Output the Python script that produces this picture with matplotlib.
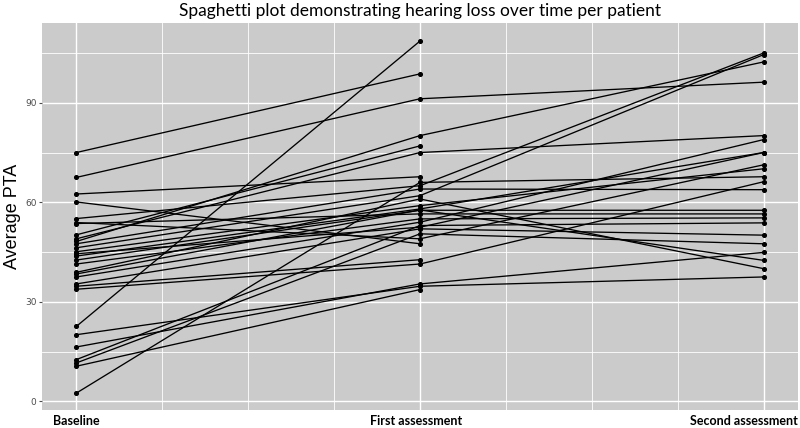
import numpy as np
import matplotlib
matplotlib.use("Agg")
import matplotlib.pyplot as plt

# time points (x positions of the assessments) and their labels
timepoints = [0, 4, 8]
tick_labels = ["Baseline", "First assessment", "Second assessment"]

# average PTA per patient at each assessment (nan = not measured)
nan = np.nan
baseline = [75.0, 67.5, 22.6, 62.5, 60.1, 55.1, 53.9, 53.6, 50.2, 49.0,
            48.2, 47.5, 46.3, 45.1, 43.8, 42.6, 41.4, 38.9, 38.4, 37.5,
            35.4, 34.7, 33.8, 20.1, 16.4, 12.6, 11.6, 10.6, 2.5, 44.5]
first = [98.7, 91.2, 108.6, 67.7, 47.5, 65.0, 49.0, 56.5, 77.0, 75.0,
         80.1, 64.0, 62.0, 59.0, 58.0, 57.6, 55.0, 61.0, 57.7, 54.0,
         52.0, 42.7, 41.4, 34.7, 35.4, 53.0, 50.5, 33.7, 66.0, 52.5]
second = [nan, 96.2, nan, nan, nan, 105.0, 71.3, 56.5, nan, 80.1,
          102.3, 63.8, 104.5, 70.1, 75.0, 57.6, 55.3, 40.0, 42.5, 78.9,
          50.1, nan, 66.2, 37.5, 44.9, 53.8, 47.5, nan, 67.7, 75.0]

fig = plt.figure(figsize=(8, 4.28), dpi=100)
ax = fig.add_axes([0.0525, 0.042, 0.945, 0.904])
ax.set_facecolor("#cbcbcb")

for b, f, s in zip(baseline, first, second):
    vals = np.array([b, f, s])
    ok = ~np.isnan(vals)
    xs = np.array(timepoints)[ok]
    ax.plot(xs, vals[ok], color="black", lw=0.95, zorder=3)
    ax.scatter(xs, vals[ok], s=7, color="black", zorder=4)

ax.set_xlim(-0.4, 8.4)
ax.set_ylim(-2.6, 114)

ax.set_yticks([0, 30, 60, 90])
ax.set_yticks([15, 45, 75, 105], minor=True)
ax.set_xticks(timepoints)
ax.set_xticks([1, 2, 3, 5, 6, 7], minor=True)
ax.grid(which="major", color="white", lw=1.0)
ax.grid(which="minor", color="white", lw=0.6)
ax.set_axisbelow(True)
for sp in ax.spines.values():
    sp.set_visible(False)

ax.tick_params(axis="y", which="major", labelsize=6.5, labelcolor="#4d4d4d",
               color="#4d4d4d", length=2.5, width=0.8, pad=1.5)
ax.tick_params(axis="x", which="major", length=0, labelbottom=False)
ax.tick_params(which="minor", length=0)

# category labels under the panel; the last one sits against the right edge
xtr = ax.get_xaxis_transform()
ax.text(timepoints[0], -0.012, tick_labels[0], transform=xtr, ha="center", va="top",
        fontfamily="Lato", fontweight="bold", fontsize=9)
ax.text(timepoints[1] - 0.05, -0.012, tick_labels[1], transform=xtr, ha="center", va="top",
        fontfamily="Lato", fontweight="bold", fontsize=9)
ax.text(8.4, -0.012, tick_labels[2], transform=xtr, ha="right", va="top",
        fontfamily="Lato", fontweight="bold", fontsize=9)

ax.set_ylabel("Average PTA", fontfamily="Liberation Sans", fontsize=13, labelpad=3)
ax.set_title("Spaghetti plot demonstrating hearing loss over time per patient",
             fontfamily="Lato", fontsize=12.5, pad=5)

fig.savefig("out.png", dpi=100)
